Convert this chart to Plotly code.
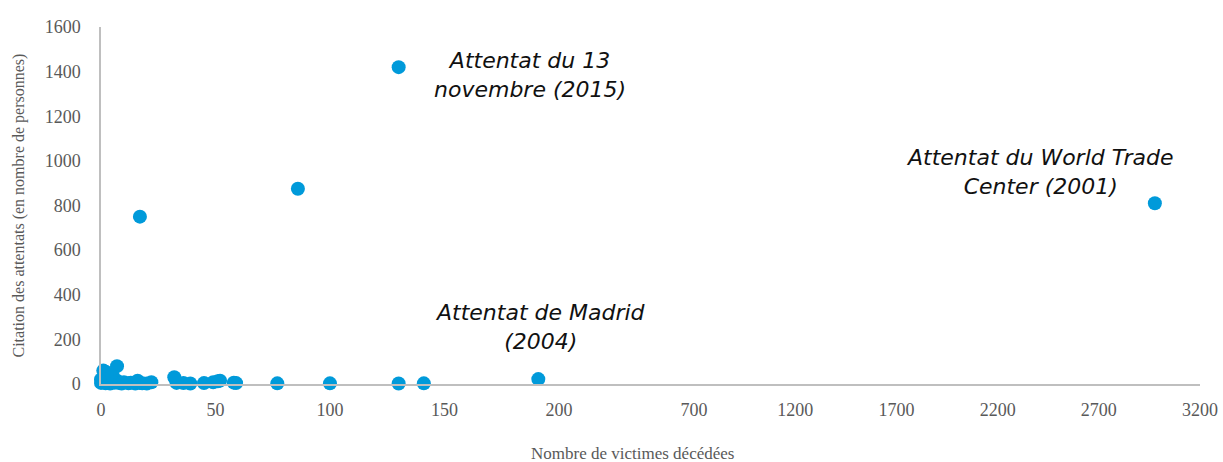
import plotly.graph_objects as go

# ---- data ----
victims = [0, 0, 1, 1, 2, 2, 3, 3, 4, 5, 5, 6, 7, 7, 8, 9, 10, 12, 13, 15,
           16, 17, 17, 18, 20, 22, 32, 33, 36, 39, 45, 49, 51, 52, 58, 59,
           77, 86, 100, 130, 130, 141, 191, 2977]
citations = [5, 20, 60, 10, 55, 3, 8, 25, 2, 12, 40, 6, 80, 15, 4, 2, 8, 3, 6, 2,
             15, 750, 5, 3, 2, 8, 30, 5, 4, 2, 4, 8, 12, 15, 6, 4,
             3, 875, 3, 1420, 2, 3, 22, 810]

x_ticks = [0, 50, 100, 150, 200, 700, 1200, 1700, 2200, 2700, 3200]
y_ticks = [0, 200, 400, 600, 800, 1000, 1200, 1400, 1600]

labels = ["Attentat du 13<br>novembre (2015)",
          "Attentat du World Trade<br>Center (2001)",
          "Attentat de Madrid<br>(2004)"]


# broken x-axis: 0-200 linear, then compressed 200-3200 segment
def xmap(v):
    if v <= 200:
        return v * 2.29
    return 492 + (v - 200) * 0.2024


def ymap(py):
    return (384 - py) / 0.2231


u = [xmap(v) for v in victims]

fig = go.Figure()
fig.add_trace(go.Scatter(
    x=u, y=citations, mode="markers",
    marker=dict(size=14, color="#009ADA"),
    cliponaxis=False, hoverinfo="skip", showlegend=False))

tick_font = dict(family="Liberation Serif, Times New Roman, serif", size=18, color="#595959")
fig.update_layout(
    width=1223, height=462,
    margin=dict(l=101, r=23, t=27, b=78),
    plot_bgcolor="white", paper_bgcolor="white",
    xaxis=dict(range=[0, xmap(3200)], tickvals=[xmap(v) for v in x_ticks],
               ticktext=[str(v) for v in x_ticks], showgrid=False, zeroline=False,
               showline=True, linecolor="#BFBFBF", linewidth=1.5,
               ticks="", tickfont=tick_font, ticklabelstandoff=9, automargin=False),
    yaxis=dict(range=[0, 1600], tickvals=y_ticks, showgrid=False, zeroline=False,
               showline=True, linecolor="#BFBFBF", linewidth=1.5,
               ticks="", tickfont=tick_font, ticklabelstandoff=15, automargin=False),
)

ann_font = dict(family="DejaVu Sans, Verdana, sans-serif", size=22, color="#111111")
ann_pos = [(530, 75), (1040, 172), (541, 327)]
for txt, (px, py) in zip(labels, ann_pos):
    fig.add_annotation(x=px - 101, y=ymap(py), text="<i>" + txt + "</i>",
                       showarrow=False, font=ann_font, align="center")

title_font = dict(family="Liberation Serif, Times New Roman, serif", size=16, color="#595959")
fig.add_annotation(x=(632 - 101) / 1099, y=-(453 - 384) / 357, xref="paper", yref="paper",
                   text="Nombre de victimes décédées", showarrow=False,
                   font=dict(title_font, size=17), yanchor="middle")
fig.add_annotation(x=(18 - 101) / 1099, y=0.5, xref="paper", yref="paper",
                   text="Citation des attentats (en nombre de personnes)", textangle=-90,
                   showarrow=False, font=title_font, xanchor="center")

fig.write_html("out.html", config={"displayModeBar": False},
               post_script="document.body.style.margin='0px';")
